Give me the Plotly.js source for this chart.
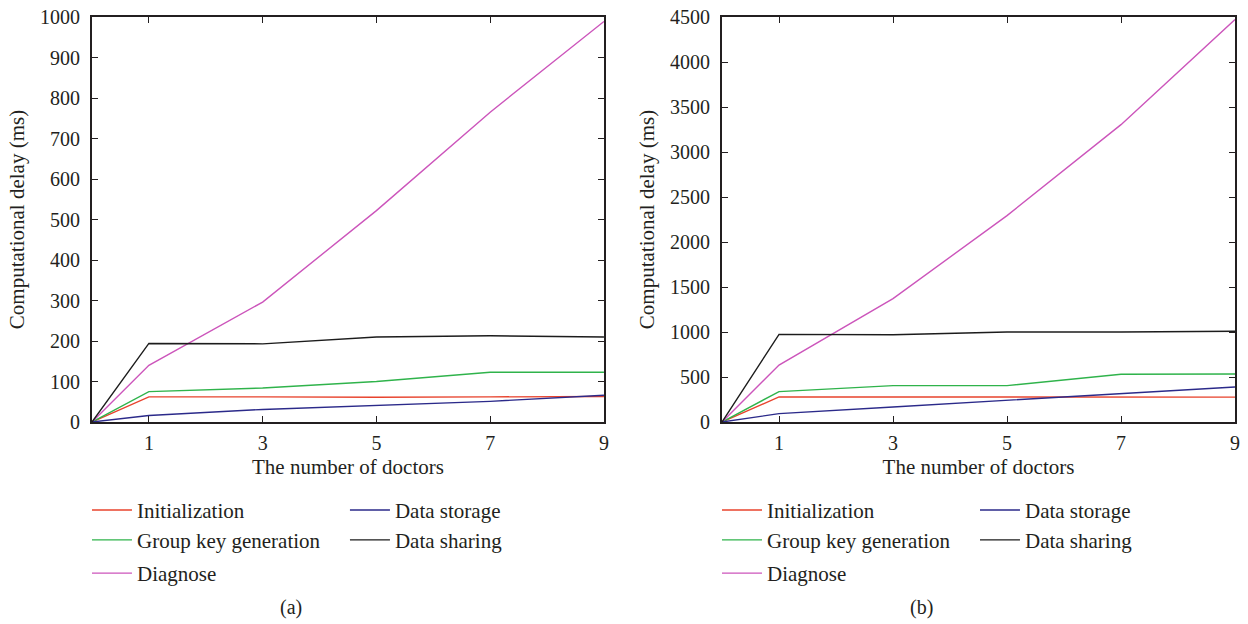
<!DOCTYPE html>
<html>
<head>
<meta charset="utf-8">
<script src="https://cdn.plot.ly/plotly-3.0.1.min.js"></script>
<style>
html,body{margin:0;padding:0;background:#fff;}
#chart{width:1248px;height:624px;}
</style>
</head>
<body>
<div id="chart"></div>
<script>
// ---- data ----
const doctors = [0, 1, 3, 5, 7, 9];
const xTickVals = [1, 3, 5, 7, 9];
const seriesNames = ["Initialization", "Group key generation", "Diagnose", "Data storage", "Data sharing"];
const seriesColors = ["#e8432d", "#2fb34b", "#cc55bb", "#2b2a8a", "#1c1c1c"];

// panel (a)
const aInitialization = [0, 62, 62, 61, 62, 63];
const aGroupKey = [0, 75, 84, 100, 123, 123];
const aDiagnose = [0, 140, 296, 522, 765, 989];
const aDataStorage = [0, 16, 31, 41, 51, 66];
const aDataSharing = [0, 194, 193, 210, 213, 210];

// panel (b)
const bInitialization = [0, 278, 278, 278, 278, 276];
const bGroupKey = [0, 338, 404, 404, 530, 534];
const bDiagnose = [0, 633, 1371, 2293, 3304, 4472];
const bDataStorage = [0, 93, 167, 241, 319, 389];
const bDataSharing = [0, 974, 970, 1000, 1000, 1008];

const panelA = [aInitialization, aGroupKey, aDiagnose, aDataStorage, aDataSharing];
const panelB = [bInitialization, bGroupKey, bDiagnose, bDataStorage, bDataSharing];

const FONT = "Liberation Serif, DejaVu Serif, serif";
const TXT = "#231f20";

// legend slot positions (paper coords): column x per panel, row y
const legendX = [[-0.0044, 0.2213], [0.5468, 0.7725]];
const legendRowY = [-0.218, -0.292, -0.374];
// series index -> [column,row]
const slot = [[0, 0], [0, 1], [0, 2], [1, 0], [1, 1]];

const traces = [];
const layoutLegends = {};
let legendCount = 0;
[panelA, panelB].forEach((panel, p) => {
  panel.forEach((vals, i) => {
    legendCount += 1;
    const lid = legendCount === 1 ? "legend" : "legend" + legendCount;
    traces.push({
      type: "scatter", mode: "lines",
      x: doctors, y: vals,
      name: seriesNames[i],
      line: {color: seriesColors[i], width: 1.4},
      xaxis: p === 0 ? "x" : "x2",
      yaxis: p === 0 ? "y" : "y2",
      legend: lid,
      showlegend: true,
      hoverinfo: "x+y+name"
    });
    layoutLegends[lid] = {
      x: legendX[p][slot[i][0]], y: legendRowY[slot[i][1]],
      xanchor: "left", yanchor: "middle",
      orientation: "v",
      bgcolor: "rgba(0,0,0,0)", borderwidth: 0,
      font: {family: FONT, size: 21, color: TXT},
      itemwidth: 40
    };
  });
});

function xAxis(domain, anchor) {
  return {
    domain: domain, anchor: anchor,
    range: [0, 9], tickvals: xTickVals, ticktext: xTickVals.map(String),
    showgrid: false, zeroline: false,
    showline: true, linecolor: TXT, linewidth: 1.8, mirror: "allticks",
    ticks: "inside", ticklen: 6, tickwidth: 1.3, tickcolor: TXT,
    ticklabelstandoff: 2,
    tickfont: {family: FONT, size: 20, color: TXT},
    title: {text: "The number of doctors", font: {family: FONT, size: 21, color: TXT}, standoff: 6},
    fixedrange: true
  };
}
function yAxis(anchor, max, dtick) {
  return {
    domain: [0, 1], anchor: anchor,
    range: [0, max], dtick: dtick, tick0: 0,
    showgrid: false, zeroline: false,
    showline: true, linecolor: TXT, linewidth: 1.8, mirror: "allticks",
    ticks: "inside", ticklen: 6, tickwidth: 1.3, tickcolor: TXT,
    ticklabelstandoff: 6,
    tickfont: {family: FONT, size: 20, color: TXT},
    title: {text: "Computational delay (ms)", font: {family: FONT, size: 21, color: TXT}, standoff: 10},
    fixedrange: true
  };
}

const layout = Object.assign({
  width: 1248, height: 624,
  margin: {l: 92, r: 13, t: 17, b: 202},
  paper_bgcolor: "#ffffff", plot_bgcolor: "#ffffff",
  font: {family: FONT, color: TXT},
  xaxis: xAxis([0, 0.4479], "y"),
  yaxis: yAxis("x", 1000, 100),
  xaxis2: xAxis([0.5512, 1], "y2"),
  yaxis2: yAxis("x2", 4500, 500),
  annotations: [
    {text: "(a)", xref: "paper", yref: "paper", x: 0.1741, y: -0.457, showarrow: false,
     xanchor: "center", yanchor: "middle", font: {family: FONT, size: 20, color: TXT}},
    {text: "(b)", xref: "paper", yref: "paper", x: 0.7253, y: -0.457, showarrow: false,
     xanchor: "center", yanchor: "middle", font: {family: FONT, size: 20, color: TXT}}
  ]
}, layoutLegends);

Plotly.newPlot("chart", traces, layout, {displayModeBar: false});
</script>
</body>
</html>
